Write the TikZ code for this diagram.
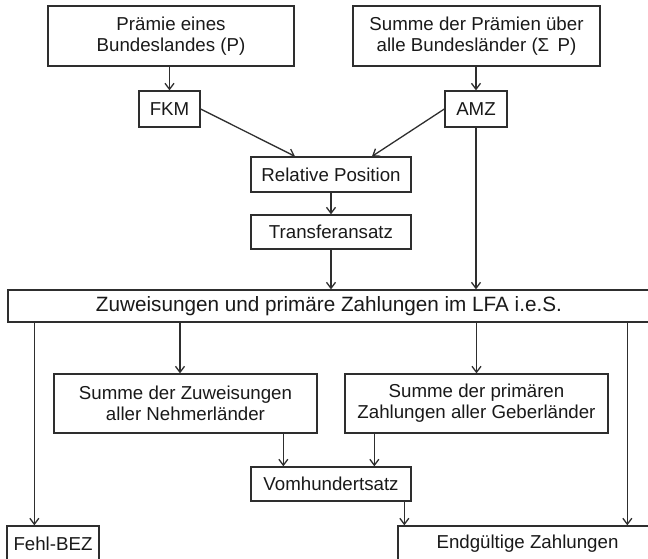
\documentclass[tikz,border=0pt]{standalone}
\usepackage{fontspec}
\setmainfont{Liberation Sans}
\usetikzlibrary{arrows.meta,calc}
\tikzset{
  % --- boxes -----------------------------------------------------------
  base/.style    ={draw=black!82, line width=1.3bp, text=black!90, align=center,
                   inner sep=0pt, font=\fontsize{18.7bp}{21bp}\selectfont},
  box/.style     ={base, minimum height=35bp},                 % one line
  tallbox/.style ={base, minimum height=60bp},                 % two lines
  widebox/.style ={base, minimum height=32bp,                  % LFA bar
                   font=\fontsize{20.7bp}{23bp}\selectfont},
  % --- arrows ----------------------------------------------------------
  arrow/.style   ={-{Straight Barb[length=6bp,width=9bp]}, line width=1.3bp,
                   draw=black!82},
}

\begin{document}
\begin{tikzpicture}[x=1bp, y=-1bp]

  \useasboundingbox (0,0) rectangle (648,559);
  \clip (0,0) rectangle (648,559);

  % ============================ premiums ============================
  \node[tallbox, minimum width=246bp] (praemie) at (171,36)
    {Prämie eines\\Bundeslandes (P)};
  \node[tallbox, minimum width=247bp] (summe) at (476.5,36)
    {Summe der Prämien über\\alle Bundesländer (Σ~\,P)};
  \node[box, minimum width=61bp, minimum height=36bp] (fkm) at (169.5,109) {FKM};
  \node[box, minimum width=62bp, minimum height=36bp] (amz) at (476,109) {AMZ};

  % ============================ position + transfer ============================
  \node[box, minimum width=160bp] (relpos) at (331,174.5) {Relative Position};
  \node[box, minimum width=160bp, minimum height=34bp] (transfer) at (331,232)
    {Transferansatz};

  % ============================ LFA i.e.S. ============================
  \node[widebox, minimum width=642bp] (lfa) at (329,306)
    {Zuweisungen und primäre Zahlungen im LFA i.e.S.};
  \node[base, minimum width=263bp, minimum height=59bp] (zuw) at (185.5,403.5)
    {Summe der Zuweisungen\\aller Nehmerländer};
  \node[base, minimum width=263bp, minimum height=59bp] (geb) at (476.5,403.5)
    {Summe der primären\\Zahlungen aller Geberländer};
  \node[box, minimum width=160bp, minimum height=34bp] (vom) at (331,484)
    {Vomhundertsatz};

  % ============================ results ============================
  \node[box, minimum width=92bp] (fehl) at (53,543.5) {Fehl-BEZ};
  \node[box, minimum width=259bp] (endg) at (527.5,543.5) {Endgültige Zahlungen};

  % ============================ inlets ============================
  \coordinate (relin1) at ($(relpos.north)+(-36,0)$);
  \coordinate (relin2) at ($(relpos.north)+(41,0)$);
  \coordinate (fehlin) at ($(fehl.north west)+(28,0)$);
  \coordinate (zuwin)  at ($(zuw.north)+(-5.5,0)$);
  \coordinate (endgin1) at ($(endg.north west)+(7,0)$);
  \coordinate (endgin2) at ($(endg.north west)+(230,0)$);
  \coordinate (vomin1) at ($(vom.north west)+(33,0)$);
  \coordinate (vomin2) at ($(vom.north west)+(124,0)$);

  % ============================ upper path ============================
  \draw[arrow] (praemie.south -| fkm.north) -- (fkm.north);
  \draw[arrow] (summe.south -| amz.north) -- (amz.north);
  \draw[arrow] (fkm.east) -- (relin1);
  \draw[arrow] (amz.west) -- (relin2);
  \draw[arrow] (relpos.south) -- (transfer.north);
  \draw[arrow] (transfer.south) -- (transfer.south |- lfa.north);
  \draw[arrow] (amz.south) -- (amz.south |- lfa.north);

  % ============================ lower path ============================
  \draw[arrow] (lfa.south -| fehlin) -- (fehlin);
  \draw[arrow] (lfa.south -| zuwin) -- (zuwin);
  \draw[arrow] (lfa.south -| geb.north) -- (geb.north);
  \draw[arrow] (lfa.south -| endgin2) -- (endgin2);
  \draw[arrow] (zuw.south -| vomin1) -- (vomin1);
  \draw[arrow] (geb.south -| vomin2) -- (vomin2);
  \draw[arrow] (vom.south -| endgin1) -- (endgin1);

\end{tikzpicture}
\end{document}
